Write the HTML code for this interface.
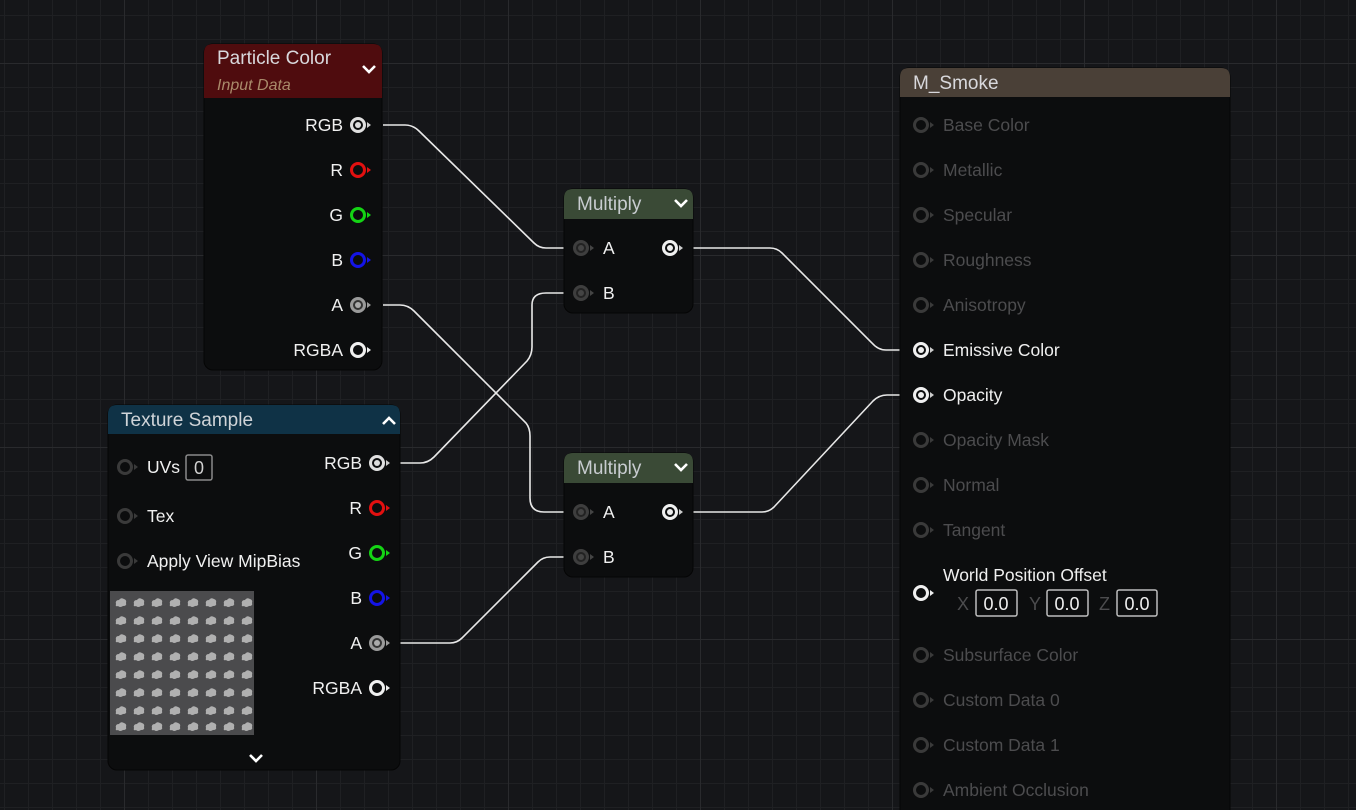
<!DOCTYPE html>
<html><head><meta charset="utf-8"><style>
html,body{margin:0;padding:0;background:#151619;}
svg{display:block;font-family:"Liberation Sans",sans-serif;}
</style></head><body>
<svg width="1356" height="810" viewBox="0 0 1356 810" xmlns="http://www.w3.org/2000/svg">
<defs>
<pattern id="minor" x="4" y="15" width="24" height="24" patternUnits="userSpaceOnUse">
<path d="M0 0H24M0 0V24" stroke="#1f2023" stroke-width="2" fill="none"/>
</pattern>
<pattern id="major" x="124" y="63" width="192" height="192" patternUnits="userSpaceOnUse">
<path d="M0 0H192M0 0V192" stroke="#292a2d" stroke-width="2" fill="none"/>
</pattern>
<g id="blob"><path d="M-5 1 Q-6 -3 -2 -3 Q0 -6 3 -4 Q6 -3 5 0 Q6 3 2 3 Q-1 5 -3 3 Q-6 4 -5 1Z" fill="#b0b0b0"/></g>
</defs>
<rect width="1356" height="810" fill="#151619"/>
<rect width="1356" height="810" fill="url(#minor)"/>
<rect width="1356" height="810" fill="url(#major)"/>

<g stroke="#e8e8e8" stroke-width="1.6" fill="none">
<path d="M383 125 H405 Q413 125 419 131 L534 243 Q539 248 546 248 H566"/>
<path d="M383 305 H400 Q408 305 414 311 L526 423 Q530 428 530 436 V498 Q530 512 544 512 H566"/>
<path d="M393 463 H420 Q428 463 434 457 L527 361 Q532 355 532 347 V305 Q532 293 546 293 H566"/>
<path d="M393 643 H450 Q457 643 462 638 L538 562 Q543 557 550 557 H566"/>
<path d="M690 248 H770 Q777 248 782 253 L872 343 Q878 350 886 350 H914"/>
<path d="M690 512 H762 Q769 512 774 507 L873 401 Q879 395 887 395 H914"/>
</g>

<rect x="204" y="44" width="178" height="326" rx="9" fill="#0c0d0e" stroke="#050505"/>
<path d="M204 98 V53 Q204 44 213 44 H373 Q382 44 382 53 V98Z" fill="#4f0c0e"/>
<text x="217" y="64" fill="#d8d8dc" font-size="19">Particle Color</text>
<text x="217" y="90" fill="#a98a6a" font-size="16" font-style="italic">Input Data</text>
<path d="M363 66 L369 72 L375 66" stroke="#fff" stroke-width="2.6" fill="none"/>

<rect x="108" y="405" width="292" height="365" rx="9" fill="#0c0d0e" stroke="#050505"/>
<path d="M108 434 V414 Q108 405 117 405 H391 Q400 405 400 414 V434Z" fill="#0f3246"/>
<text x="121" y="426" fill="#d0d4d8" font-size="19">Texture Sample</text>
<path d="M383 424 L389 418 L395 424" stroke="#fff" stroke-width="2.6" fill="none"/>
<rect x="110" y="591" width="144" height="144" fill="#4b4b4d"/>
<g>
<use href="#blob" x="121" y="603"/><use href="#blob" x="139" y="603"/><use href="#blob" x="157" y="603"/><use href="#blob" x="175" y="603"/><use href="#blob" x="193" y="603"/><use href="#blob" x="211" y="603"/><use href="#blob" x="229" y="603"/><use href="#blob" x="247" y="603"/>
<use href="#blob" x="121" y="621"/><use href="#blob" x="139" y="621"/><use href="#blob" x="157" y="621"/><use href="#blob" x="175" y="621"/><use href="#blob" x="193" y="621"/><use href="#blob" x="211" y="621"/><use href="#blob" x="229" y="621"/><use href="#blob" x="247" y="621"/>
<use href="#blob" x="121" y="639"/><use href="#blob" x="139" y="639"/><use href="#blob" x="157" y="639"/><use href="#blob" x="175" y="639"/><use href="#blob" x="193" y="639"/><use href="#blob" x="211" y="639"/><use href="#blob" x="229" y="639"/><use href="#blob" x="247" y="639"/>
<use href="#blob" x="121" y="657"/><use href="#blob" x="139" y="657"/><use href="#blob" x="157" y="657"/><use href="#blob" x="175" y="657"/><use href="#blob" x="193" y="657"/><use href="#blob" x="211" y="657"/><use href="#blob" x="229" y="657"/><use href="#blob" x="247" y="657"/>
<use href="#blob" x="121" y="675"/><use href="#blob" x="139" y="675"/><use href="#blob" x="157" y="675"/><use href="#blob" x="175" y="675"/><use href="#blob" x="193" y="675"/><use href="#blob" x="211" y="675"/><use href="#blob" x="229" y="675"/><use href="#blob" x="247" y="675"/>
<use href="#blob" x="121" y="693"/><use href="#blob" x="139" y="693"/><use href="#blob" x="157" y="693"/><use href="#blob" x="175" y="693"/><use href="#blob" x="193" y="693"/><use href="#blob" x="211" y="693"/><use href="#blob" x="229" y="693"/><use href="#blob" x="247" y="693"/>
<use href="#blob" x="121" y="711"/><use href="#blob" x="139" y="711"/><use href="#blob" x="157" y="711"/><use href="#blob" x="175" y="711"/><use href="#blob" x="193" y="711"/><use href="#blob" x="211" y="711"/><use href="#blob" x="229" y="711"/><use href="#blob" x="247" y="711"/>
<use href="#blob" x="121" y="727"/><use href="#blob" x="139" y="727"/><use href="#blob" x="157" y="727"/><use href="#blob" x="175" y="727"/><use href="#blob" x="193" y="727"/><use href="#blob" x="211" y="727"/><use href="#blob" x="229" y="727"/><use href="#blob" x="247" y="727"/>
</g>
<path d="M250 755 L256 761 L262 755" stroke="#fff" stroke-width="2.6" fill="none"/>

<rect x="564" y="189" width="129" height="124" rx="9" fill="#0c0d0e" stroke="#050505"/>
<path d="M564 219 V198 Q564 189 573 189 H684 Q693 189 693 198 V219Z" fill="#3a4a36"/>
<text x="577" y="210" fill="#c8ccd0" font-size="19">Multiply</text>
<path d="M675 200 L681 206 L687 200" stroke="#fff" stroke-width="2.6" fill="none"/>
<rect x="564" y="453" width="129" height="124" rx="9" fill="#0c0d0e" stroke="#050505"/>
<path d="M564 483 V462 Q564 453 573 453 H684 Q693 453 693 462 V483Z" fill="#3a4a36"/>
<text x="577" y="474" fill="#c8ccd0" font-size="19">Multiply</text>
<path d="M675 464 L681 470 L687 464" stroke="#fff" stroke-width="2.6" fill="none"/>

<rect x="900" y="68" width="330" height="760" rx="9" fill="#0c0d0e" stroke="#050505"/>
<path d="M900 97 V77 Q900 68 909 68 H1221 Q1230 68 1230 77 V97Z" fill="#4a4037"/>
<text x="913" y="89" fill="#d8d8dc" font-size="19">M_Smoke</text>

<g font-size="17.5" fill="#f0f0f0">
<g text-anchor="end">
<text x="343" y="131">RGB</text><text x="343" y="176">R</text><text x="343" y="221">G</text><text x="343" y="266">B</text><text x="343" y="311">A</text><text x="343" y="356">RGBA</text>
<text x="362" y="469">RGB</text><text x="362" y="514">R</text><text x="362" y="559">G</text><text x="362" y="604">B</text><text x="362" y="649">A</text><text x="362" y="694">RGBA</text>
</g>
<text x="147" y="473">UVs</text><text x="147" y="522">Tex</text><text x="147" y="567">Apply View MipBias</text>
<text x="603" y="254">A</text><text x="603" y="299">B</text>
<text x="603" y="518">A</text><text x="603" y="563">B</text>
<text x="943" y="356">Emissive Color</text><text x="943" y="401">Opacity</text>
<text x="943" y="581">World Position Offset</text>
</g>
<rect x="186" y="455" width="26" height="25" rx="2" fill="none" stroke="#8a8a8a" stroke-width="1.5"/>
<text x="199" y="474" font-size="18" fill="#d0d0d0" text-anchor="middle">0</text>
<g font-size="17.5" fill="#4c4c4e">
<text x="943" y="131">Base Color</text><text x="943" y="176">Metallic</text><text x="943" y="221">Specular</text><text x="943" y="266">Roughness</text><text x="943" y="311">Anisotropy</text>
<text x="943" y="446">Opacity Mask</text><text x="943" y="491">Normal</text><text x="943" y="536">Tangent</text>
<text x="943" y="661">Subsurface Color</text><text x="943" y="706">Custom Data 0</text><text x="943" y="751">Custom Data 1</text><text x="943" y="796">Ambient Occlusion</text>
<text x="957" y="610" font-size="18">X</text><text x="1029" y="610" font-size="18">Y</text><text x="1099" y="610" font-size="18">Z</text>
</g>
<g fill="none" stroke="#bdbdbd" stroke-width="1.5">
<rect x="976" y="590" width="41" height="26" rx="2"/><rect x="1047" y="590" width="41" height="26" rx="2"/><rect x="1117" y="590" width="40" height="26" rx="2"/>
</g>
<g font-size="18" fill="#f0f0f0" text-anchor="middle">
<text x="996" y="610">0.0</text><text x="1067" y="610">0.0</text><text x="1137" y="610">0.0</text>
</g>

<g stroke-width="3">
<circle cx="358" cy="125" r="6.5" fill="#0c0d0e" stroke="#e0e0e0"/><circle cx="358" cy="125" r="3" fill="#ddd"/><path d="M367 122 L371 125 L367 128Z" fill="#ccc" stroke="none"/>
<circle cx="358" cy="170" r="6.5" fill="none" stroke="#e31010"/><path d="M367 167 L371 170 L367 173Z" fill="#e31010" stroke="none"/>
<circle cx="358" cy="215" r="6.5" fill="none" stroke="#14d414"/><path d="M367 212 L371 215 L367 218Z" fill="#14d414" stroke="none"/>
<circle cx="358" cy="260" r="6.5" fill="none" stroke="#1414e6"/><path d="M367 257 L371 260 L367 263Z" fill="#1414e6" stroke="none"/>
<circle cx="358" cy="305" r="6.5" fill="#333" stroke="#9a9a9a"/><circle cx="358" cy="305" r="3" fill="#aaa" stroke="none"/><path d="M367 302 L371 305 L367 308Z" fill="#999" stroke="none"/>
<circle cx="358" cy="350" r="6.5" fill="none" stroke="#f0f0f0"/><path d="M367 347 L371 350 L367 353Z" fill="#eee" stroke="none"/>
<circle cx="377" cy="463" r="6.5" fill="#0c0d0e" stroke="#e0e0e0"/><circle cx="377" cy="463" r="3" fill="#ddd" stroke="none"/><path d="M386 460 L390 463 L386 466Z" fill="#ccc" stroke="none"/>
<circle cx="377" cy="508" r="6.5" fill="none" stroke="#e31010"/><path d="M386 505 L390 508 L386 511Z" fill="#e31010" stroke="none"/>
<circle cx="377" cy="553" r="6.5" fill="none" stroke="#14d414"/><path d="M386 550 L390 553 L386 556Z" fill="#14d414" stroke="none"/>
<circle cx="377" cy="598" r="6.5" fill="none" stroke="#1414e6"/><path d="M386 595 L390 598 L386 601Z" fill="#1414e6" stroke="none"/>
<circle cx="377" cy="643" r="6.5" fill="#333" stroke="#9a9a9a"/><circle cx="377" cy="643" r="3" fill="#aaa" stroke="none"/><path d="M386 640 L390 643 L386 646Z" fill="#999" stroke="none"/>
<circle cx="377" cy="688" r="6.5" fill="none" stroke="#f0f0f0"/><path d="M386 685 L390 688 L386 691Z" fill="#eee" stroke="none"/>
<g stroke="#3a3a3a"><circle cx="125" cy="467" r="6.5" fill="none"/><circle cx="125" cy="516" r="6.5" fill="none"/><circle cx="125" cy="561" r="6.5" fill="none"/></g>
<g fill="#3a3a3a" stroke="none"><path d="M134 464 L138 467 L134 470Z"/><path d="M134 513 L138 516 L134 519Z"/><path d="M134 558 L138 561 L134 564Z"/></g>
<g stroke="#3e3e3e" fill="#222">
<circle cx="581" cy="248" r="6.5"/><circle cx="581" cy="293" r="6.5"/><circle cx="581" cy="512" r="6.5"/><circle cx="581" cy="557" r="6.5"/>
</g>
<g fill="#444" stroke="none"><circle cx="581" cy="248" r="3"/><circle cx="581" cy="293" r="3"/><circle cx="581" cy="512" r="3"/><circle cx="581" cy="557" r="3"/>
<path d="M590 245 L594 248 L590 251Z"/><path d="M590 290 L594 293 L590 296Z"/><path d="M590 509 L594 512 L590 515Z"/><path d="M590 554 L594 557 L590 560Z"/></g>
<circle cx="670" cy="248" r="6.5" fill="#0c0d0e" stroke="#f0f0f0"/><circle cx="670" cy="248" r="3" fill="#eee" stroke="none"/><path d="M679 245 L683 248 L679 251Z" fill="#ccc" stroke="none"/>
<circle cx="670" cy="512" r="6.5" fill="#0c0d0e" stroke="#f0f0f0"/><circle cx="670" cy="512" r="3" fill="#eee" stroke="none"/><path d="M679 509 L683 512 L679 515Z" fill="#ccc" stroke="none"/>
<g stroke="#3a3a3a" fill="none">
<circle cx="921" cy="125" r="6.5"/><circle cx="921" cy="170" r="6.5"/><circle cx="921" cy="215" r="6.5"/><circle cx="921" cy="260" r="6.5"/><circle cx="921" cy="305" r="6.5"/>
<circle cx="921" cy="440" r="6.5"/><circle cx="921" cy="485" r="6.5"/><circle cx="921" cy="530" r="6.5"/>
<circle cx="921" cy="655" r="6.5"/><circle cx="921" cy="700" r="6.5"/><circle cx="921" cy="745" r="6.5"/><circle cx="921" cy="790" r="6.5"/>
</g>
<g fill="#3a3a3a" stroke="none">
<path d="M930 122 L934 125 L930 128Z"/><path d="M930 167 L934 170 L930 173Z"/><path d="M930 212 L934 215 L930 218Z"/><path d="M930 257 L934 260 L930 263Z"/><path d="M930 302 L934 305 L930 308Z"/>
<path d="M930 437 L934 440 L930 443Z"/><path d="M930 482 L934 485 L930 488Z"/><path d="M930 527 L934 530 L930 533Z"/>
<path d="M930 652 L934 655 L930 658Z"/><path d="M930 697 L934 700 L930 703Z"/><path d="M930 742 L934 745 L930 748Z"/><path d="M930 787 L934 790 L930 793Z"/>
</g>
<circle cx="921" cy="350" r="6.5" fill="#0c0d0e" stroke="#f0f0f0"/><circle cx="921" cy="350" r="3" fill="#eee" stroke="none"/><path d="M930 347 L934 350 L930 353Z" fill="#ccc" stroke="none"/>
<circle cx="921" cy="395" r="6.5" fill="#0c0d0e" stroke="#f0f0f0"/><circle cx="921" cy="395" r="3" fill="#eee" stroke="none"/><path d="M930 392 L934 395 L930 398Z" fill="#ccc" stroke="none"/>
<circle cx="921" cy="593" r="6.5" fill="none" stroke="#f0f0f0"/><path d="M930 590 L934 593 L930 596Z" fill="#eee" stroke="none"/>
</g>
</svg>
</body></html>
